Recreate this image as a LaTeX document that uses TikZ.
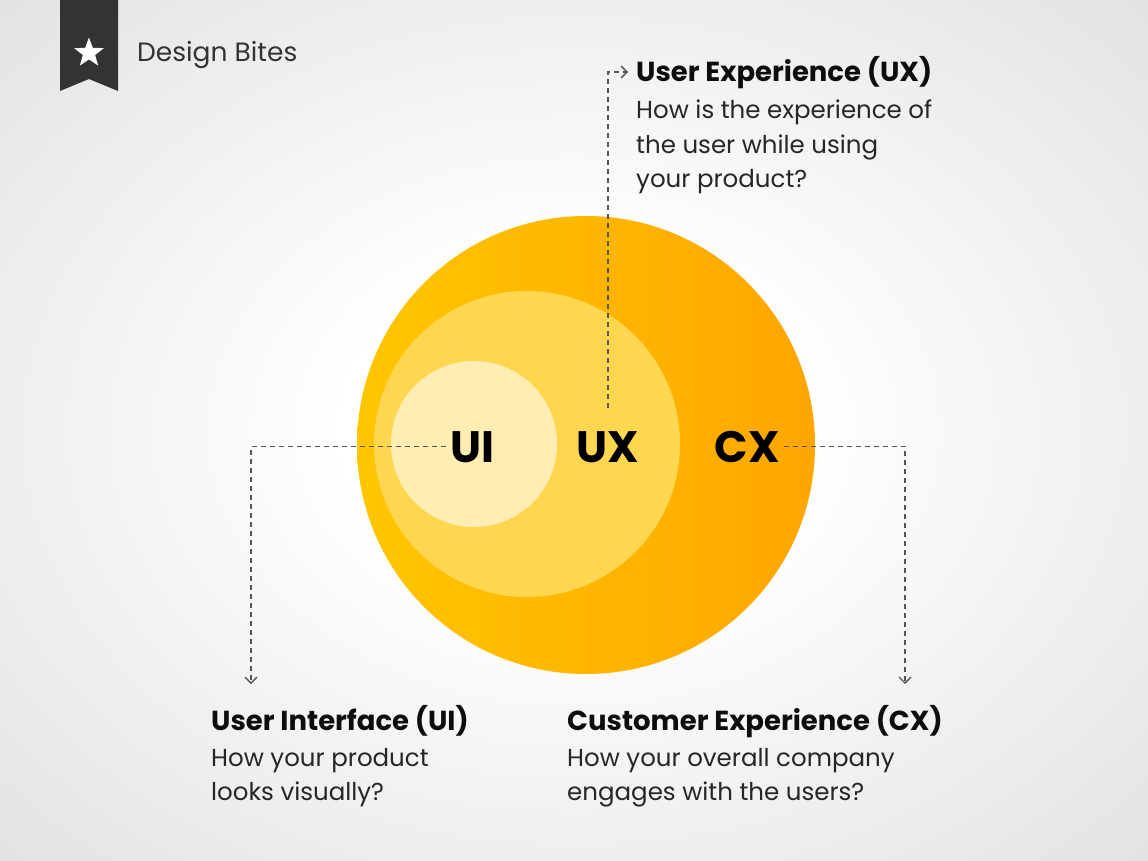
\documentclass[tikz,border=0pt]{standalone}
\usepackage{fontspec}
\setmainfont{Poppins}
\usetikzlibrary{arrows.meta,shapes.geometric,positioning}
\definecolor{bggray}{RGB}{226,226,226}
\definecolor{cxleft}{RGB}{255,198,0}
\definecolor{cxright}{RGB}{255,166,0}
\definecolor{uxfill}{RGB}{255,214,80}
\definecolor{uifill}{RGB}{255,237,178}
\definecolor{badgegray}{RGB}{51,51,51}
\definecolor{linegray}{RGB}{85,85,85}
\pgfdeclareradialshading{bgglow}{\pgfpoint{0bp}{0bp}}{color(0bp)=(white); color(10bp)=(white); color(36bp)=(bggray); color(50bp)=(bggray)}
\tikzset{
  conn/.style={draw=linegray, line width=1.4pt, dash pattern=on 5pt off 4pt,
    -{Straight Barb[length=6pt,width=12pt,line width=1.4pt]}},
  tag/.style={inner sep=0pt, font=\bfseries\fontsize{44}{44}\selectfont, text=black},
  title/.style={inner sep=0pt, anchor=base west, font=\bfseries\fontsize{27.5}{32}\selectfont, text=black!95},
  bodytext/.style={inner sep=0pt, anchor=north west, align=left, font=\fontsize{24.5}{34.5}\selectfont, text=black!85}
}
\begin{document}
\begin{tikzpicture}[x=1pt,y=-1pt]
  \useasboundingbox (0,0) rectangle (1148,861);
  \shade[shading=bgglow] (0,0) rectangle (1148,861);
  % badge
  \fill[badgegray] (60,0) -- (118,0) -- (118,91) -- (89,79) -- (60,91) -- cycle;
  \node[star, star points=5, star point ratio=2.4, fill=white, minimum size=31pt, inner sep=0pt] (star) at (89,53) {};
  \node[anchor=base west, inner sep=0pt, font=\fontsize{26.5}{30}\selectfont, text=badgegray] (brand) at (137,62) {Design Bites};
  % circles
  \shade[left color=cxleft, right color=cxright] (586,445) circle (229);
  \fill[uxfill] (527,444) circle (153);
  \fill[uifill] (474,444) circle (83);
  \node[tag, anchor=base] (ui) at (472,462) {UI};
  \node[tag, anchor=base] (ux) at (608,462) {UX};
  \node[tag, anchor=base] (cx) at (747,462) {CX};
  % texts
  \node[title] (uxtitle) at (636,82) {User Experience (UX)};
  \node[bodytext] (uxtext) at (636,100) {How is the experience of\\the user while using\\your product?};
  \node[title] (uititle) at (211,730) {User Interface (UI)};
  \node[bodytext] (uitext) at (211,748) {How your product\\looks visually?};
  \node[title] (cxtitle) at (567,730) {Customer Experience (CX)};
  \node[bodytext] (cxtext) at (567,748) {How your overall company\\engages with the users?};
  % connectors
  \coordinate (uxtip) at (628,72);
  \coordinate (uitip) at (251,684);
  \coordinate (cxtip) at (905,684);
  \begin{scope}
    \draw[conn, shorten <=23pt] (ux.north) |- (uxtip);
    \draw[conn, shorten <=4pt] (ui.west) -| (uitip);
    \draw[conn, shorten <=4pt] (cx.east) -| (cxtip);
  \end{scope}
\end{tikzpicture}
\end{document}
